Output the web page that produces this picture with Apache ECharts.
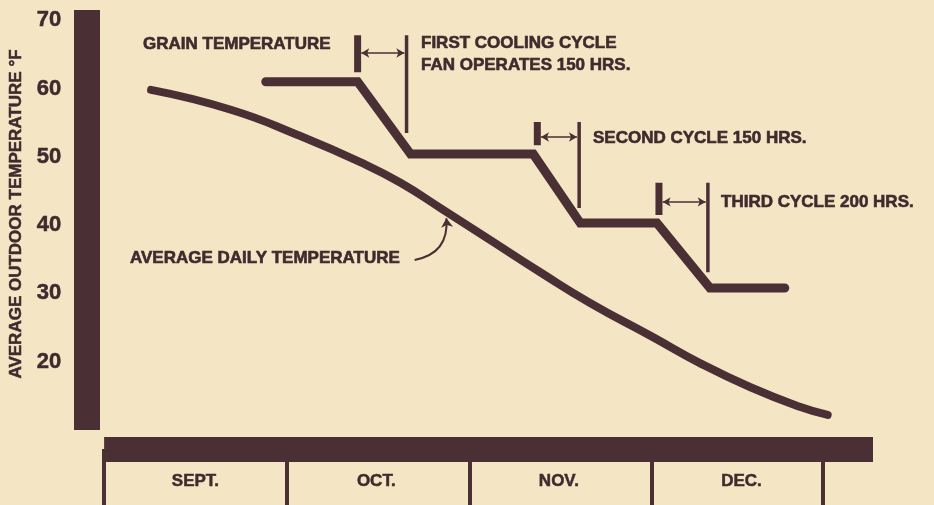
<!DOCTYPE html>
<html>
<head>
<meta charset="utf-8">
<script src="https://cdn.jsdelivr.net/npm/echarts@6/dist/echarts.min.js"></script>
<style>
html,body{margin:0;padding:0;background:#f4e6c5;}
#chart{width:934px;height:505px;}
</style>
</head>
<body>
<div id="chart"></div>
<script>
// ---- data (x in months since Sept 1, y in °F) ----
const monthLabels = ['SEPT.', 'OCT.', 'NOV.', 'DEC.'];
const monthEdges = [0, 1, 2, 3, 3.934];
const monthCenters = [0.5, 1.49, 2.49, 3.49];
const yTicks = [20, 30, 40, 50, 60, 70];

const avgX = [0.257, 0.694, 1.060, 1.421, 1.623, 1.842, 2.115, 2.388, 2.661, 3.005, 3.262, 3.536, 3.809, 3.962];
const avgTemp = [59.8, 56.9, 53.2, 49.0, 46.2, 42.5, 37.8, 33.1, 28.6, 23.6, 19.8, 16.3, 13.4, 12.2];

const grainX = [0.885, 1.388, 1.678, 2.350, 2.607, 3.027, 3.317, 3.727];
const grainTemp = [61.0, 61.0, 50.4, 50.4, 40.3, 40.3, 30.8, 30.8];

const cycleStartX = [1.388, 2.372, 3.038];
const cycleEndX = [1.656, 2.601, 3.306];
const cycleTop = [67.8, 55.1, 46.2];
const cycleStartBottom = [62.4, 51.7, 41.5];
const cycleEndBottom = [53.5, 42.5, 33.1];
const cycleArrowTemp = [65.2, 52.9, 43.4];

const pointerFrom = [1.700, 34.9];
const pointerTo = [1.874, 41.0];

// ---- styling ----
const INK = '#4a3034';
const TXT = '#3f2a2e';
const FONT = '"Liberation Sans", Arial, sans-serif';

const series = [];
series.push({
  type: 'line', name: 'avg', smooth: 0.5, symbol: 'none',
  data: avgX.map((x, i) => [x, avgTemp[i]]),
  lineStyle: { color: INK, width: 8, cap: 'round' }
});
series.push({
  type: 'lines', coordinateSystem: 'cartesian2d', silent: true,
  symbol: ['none', 'arrow'], symbolSize: 9,
  lineStyle: { color: INK, width: 2, opacity: 1, curveness: -0.45 },
  data: [{ coords: [pointerFrom, pointerTo] }]
});
series.push({
  type: 'line', name: 'grain', symbol: 'none',
  data: grainX.map((x, i) => [x, grainTemp[i]]),
  lineStyle: { color: INK, width: 9, cap: 'round', join: 'miter' }
});
cycleStartX.forEach((x, i) => {
  series.push({
    type: 'line', symbol: 'none', silent: true,
    data: [[x, cycleTop[i]], [x, cycleStartBottom[i]]],
    lineStyle: { color: INK, width: 7, cap: 'butt' }
  });
  series.push({
    type: 'line', symbol: 'none', silent: true,
    data: [[cycleEndX[i], cycleTop[i]], [cycleEndX[i], cycleEndBottom[i]]],
    lineStyle: { color: INK, width: 3.5, cap: 'butt' },
    markLine: {
      silent: true, symbol: ['arrow', 'arrow'], symbolSize: [7, 8],
      label: { show: false },
      lineStyle: { color: INK, width: 1.5, type: 'solid' },
      data: [[{ coord: [x + 0.02, cycleArrowTemp[i]] }, { coord: [cycleEndX[i] - 0.012, cycleArrowTemp[i]] }]]
    }
  });
});

const textStyleBase = {
  fill: TXT, font: 'bold 17px ' + FONT, textVerticalAlign: 'middle', verticalAlign: 'middle',
  stroke: TXT, lineWidth: 0.6
};
function txt(x, y, t) {
  return { type: 'text', x: x, y: y, style: Object.assign({ text: t }, textStyleBase) };
}

const chart = echarts.init(document.getElementById('chart'), null, { renderer: 'canvas' });
chart.setOption({
  backgroundColor: '#f4e6c5',
  animation: false,
  grid: { left: 103, right: 61, top: 10, bottom: 75 },
  xAxis: {
    type: 'value', min: 0, max: 4.21, position: 'bottom', offset: 19,
    splitLine: { show: false },
    axisLine: { show: true, onZero: false, lineStyle: { color: INK, width: 25, cap: 'butt' } },
    axisTick: { show: true, inside: false, length: 56, customValues: monthEdges, lineStyle: { color: INK, width: 4 } },
    axisLabel: {
      show: true, margin: 24, customValues: monthCenters,
      color: TXT, fontFamily: FONT, fontWeight: 'bold', fontSize: 17,
      textBorderColor: TXT, textBorderWidth: 0.5,
      formatter: function (v) {
        let best = 0, d = Infinity;
        monthCenters.forEach((c, i) => { if (Math.abs(c - v) < d) { d = Math.abs(c - v); best = i; } });
        return monthLabels[best];
      }
    }
  },
  yAxis: {
    type: 'value', min: 10, max: 71.5, interval: 10, position: 'left', offset: 17,
    splitLine: { show: false },
    axisTick: { show: false },
    axisLine: { show: true, onZero: false, lineStyle: { color: INK, width: 26, cap: 'butt' } },
    axisLabel: {
      margin: 26, color: TXT, fontFamily: FONT, fontWeight: 'bold', fontSize: 22,
      textBorderColor: TXT, textBorderWidth: 0.5,
      showMaxLabel: false, showMinLabel: false,
      formatter: function (v) { return yTicks.indexOf(Math.round(v * 1000) / 1000) >= 0 ? String(v) : ''; }
    },
    name: 'AVERAGE OUTDOOR TEMPERATURE °F',
    nameLocation: 'middle', nameRotate: 90, nameGap: 52,
    nameTextStyle: { color: TXT, fontFamily: FONT, fontWeight: 'bold', fontSize: 17, padding: [0, 0, 0, 12], textBorderColor: TXT, textBorderWidth: 0.5 }
  },
  graphic: [
    txt(143, 44, 'GRAIN TEMPERATURE'),
    txt(421, 43, 'FIRST COOLING CYCLE'),
    txt(421, 65, 'FAN OPERATES 150 HRS.'),
    txt(593, 138, 'SECOND CYCLE 150 HRS.'),
    txt(721, 202, 'THIRD CYCLE 200 HRS.'),
    txt(130, 258, 'AVERAGE DAILY TEMPERATURE')
  ],
  series: series
});
</script>
</body>
</html>
